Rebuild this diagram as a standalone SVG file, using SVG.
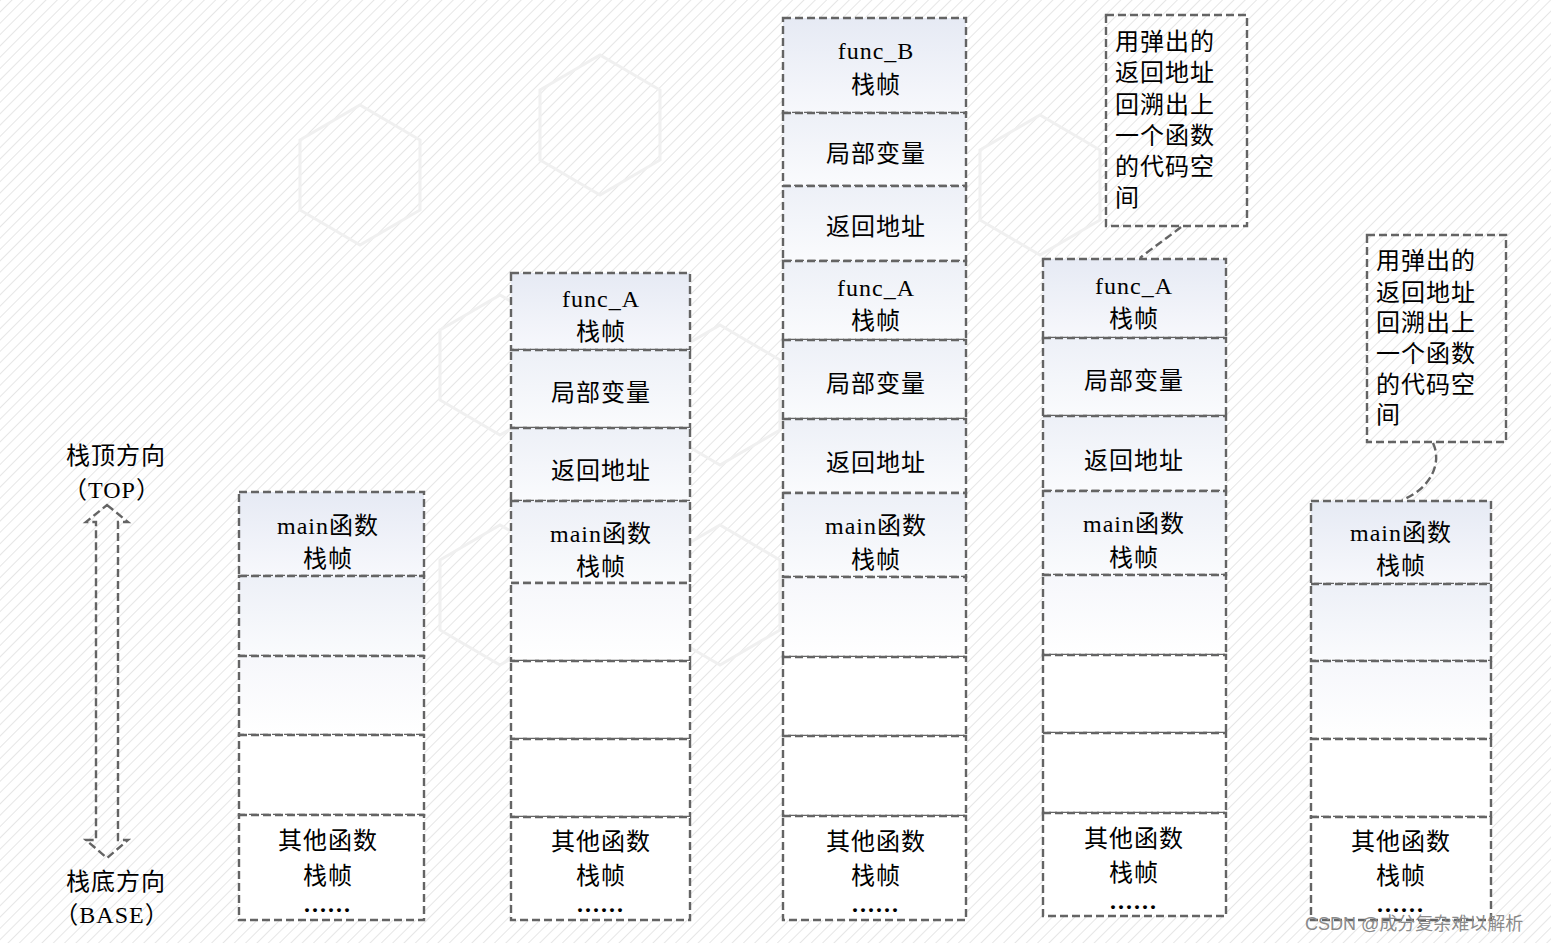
<svg xmlns="http://www.w3.org/2000/svg" width="1551" height="943" viewBox="0 0 1551 943">
<defs>
<pattern id="hatch" width="8" height="8" patternUnits="userSpaceOnUse" patternTransform="rotate(45)">
<rect width="8" height="8" fill="#ffffff"/>
<line x1="0" y1="0" x2="0" y2="8" stroke="#e6e6e6" stroke-width="2"/>
</pattern>
<linearGradient id="gHead" x1="0" y1="0" x2="0" y2="1">
<stop offset="0" stop-color="#e6eaf4"/>
<stop offset="1" stop-color="#f7f8fc"/>
</linearGradient>
<linearGradient id="gMid" x1="0" y1="0" x2="0" y2="1">
<stop offset="0" stop-color="#edf0f7"/>
<stop offset="1" stop-color="#fafbfd"/>
</linearGradient>
<linearGradient id="gLow" x1="0" y1="0" x2="0" y2="1">
<stop offset="0" stop-color="#f6f7fb"/>
<stop offset="1" stop-color="#ffffff"/>
</linearGradient>
</defs>
<style>
.cell{stroke:#646464;stroke-width:2.4;stroke-dasharray:8 4}
.h{fill:url(#gHead)}
.m{fill:url(#gMid)}
.l{fill:url(#gLow)}
.w{fill:#ffffff}
text{font-family:"Liberation Serif","Noto Sans CJK SC",serif;font-size:24px;fill:#000;letter-spacing:1px}
.c{text-anchor:middle}
.dots{font-weight:bold;letter-spacing:2px}
.conn{fill:none;stroke:#646464;stroke-width:2.4;stroke-dasharray:8 4}
.wm{font-family:"Liberation Sans","Noto Sans CJK SC",sans-serif;font-size:18px;fill:#8a8a8a;letter-spacing:0}
</style>
<rect width="1551" height="943" fill="url(#hatch)"/>
<g fill="none" stroke="#f0f0f0" stroke-width="3">
<polygon points="300,140 360,105 420,140 420,210 360,245 300,210"/>
<polygon points="540,90 600,55 660,90 660,160 600,195 540,160"/>
<polygon points="440,330 500,295 560,330 560,400 500,435 440,400"/>
<polygon points="660,360 720,325 780,360 780,430 720,465 660,430"/>
<polygon points="440,560 500,525 560,560 560,630 500,665 440,630"/>
<polygon points="660,560 720,525 780,560 780,630 720,665 660,630"/>
<polygon points="980,150 1040,115 1100,150 1100,220 1040,255 980,220"/>
</g>

<g id="direction">
<path d="M107,505 L128,522 L118,522 L118,840 L128,840 L107,858 L86,840 L96,840 L96,522 L86,522 Z" fill="#ffffff" class="conn"/>
<text class="c" x="116" y="464">栈顶方向</text>
<text class="c" x="112" y="498">（TOP）</text>
<text class="c" x="116" y="890">栈底方向</text>
<text class="c" x="112" y="923">（BASE）</text>
</g>

<g id="stack1">
<g id="s1-main"><rect class="cell h" x="239" y="492" width="185" height="84"/><text class="c" x="328" y="534">main函数</text><text class="c" x="328" y="567">栈帧</text></g>
<g id="s1-e1"><rect class="cell m" x="239" y="576" width="185" height="80"/></g>
<g id="s1-e2"><rect class="cell l" x="239" y="656" width="185" height="79"/></g>
<g id="s1-e3"><rect class="cell w" x="239" y="735" width="185" height="80"/></g>
<g id="s1-other"><rect class="cell w" x="239" y="815" width="185" height="105"/><text class="c" x="328" y="849">其他函数</text><text class="c" x="328" y="884">栈帧</text><text class="c dots" x="328" y="912">......</text></g>
</g>

<g id="stack2">
<g id="s2-funcA"><rect class="cell h" x="511" y="273" width="179" height="77"/><text class="c" x="601" y="307">func_A</text><text class="c" x="601" y="340">栈帧</text></g>
<g id="s2-local"><rect class="cell m" x="511" y="350" width="179" height="78"/><text class="c" x="601" y="401">局部变量</text></g>
<g id="s2-ret"><rect class="cell m" x="511" y="428" width="179" height="73"/><text class="c" x="601" y="479">返回地址</text></g>
<g id="s2-main"><rect class="cell m" x="511" y="501" width="179" height="82"/><text class="c" x="601" y="542">main函数</text><text class="c" x="601" y="575">栈帧</text></g>
<g id="s2-e1"><rect class="cell l" x="511" y="583" width="179" height="78"/></g>
<g id="s2-e2"><rect class="cell w" x="511" y="661" width="179" height="78"/></g>
<g id="s2-e3"><rect class="cell w" x="511" y="739" width="179" height="78"/></g>
<g id="s2-other"><rect class="cell w" x="511" y="817" width="179" height="103"/><text class="c" x="601" y="850">其他函数</text><text class="c" x="601" y="884">栈帧</text><text class="c dots" x="601" y="912">......</text></g>
</g>

<g id="stack3">
<g id="s3-funcB"><rect class="cell h" x="783" y="18" width="183" height="95"/><text class="c" x="876" y="59">func_B</text><text class="c" x="876" y="93">栈帧</text></g>
<g id="s3-local1"><rect class="cell m" x="783" y="113" width="183" height="73"/><text class="c" x="876" y="162">局部变量</text></g>
<g id="s3-ret1"><rect class="cell m" x="783" y="186" width="183" height="75"/><text class="c" x="876" y="235">返回地址</text></g>
<g id="s3-funcA"><rect class="cell m" x="783" y="261" width="183" height="79"/><text class="c" x="876" y="296">func_A</text><text class="c" x="876" y="329">栈帧</text></g>
<g id="s3-local2"><rect class="cell m" x="783" y="340" width="183" height="79"/><text class="c" x="876" y="392">局部变量</text></g>
<g id="s3-ret2"><rect class="cell m" x="783" y="419" width="183" height="74"/><text class="c" x="876" y="471">返回地址</text></g>
<g id="s3-main"><rect class="cell m" x="783" y="493" width="183" height="84"/><text class="c" x="876" y="534">main函数</text><text class="c" x="876" y="568">栈帧</text></g>
<g id="s3-e1"><rect class="cell l" x="783" y="577" width="183" height="80"/></g>
<g id="s3-e2"><rect class="cell w" x="783" y="657" width="183" height="79"/></g>
<g id="s3-e3"><rect class="cell w" x="783" y="736" width="183" height="80"/></g>
<g id="s3-other"><rect class="cell w" x="783" y="816" width="183" height="104"/><text class="c" x="876" y="850">其他函数</text><text class="c" x="876" y="884">栈帧</text><text class="c dots" x="876" y="912">......</text></g>
</g>

<g id="stack4">
<g id="s4-funcA"><rect class="cell h" x="1043" y="259" width="183" height="79"/><text class="c" x="1134" y="294">func_A</text><text class="c" x="1134" y="327">栈帧</text></g>
<g id="s4-local"><rect class="cell m" x="1043" y="338" width="183" height="78"/><text class="c" x="1134" y="389">局部变量</text></g>
<g id="s4-ret"><rect class="cell m" x="1043" y="416" width="183" height="75"/><text class="c" x="1134" y="469">返回地址</text></g>
<g id="s4-main"><rect class="cell m" x="1043" y="491" width="183" height="84"/><text class="c" x="1134" y="532">main函数</text><text class="c" x="1134" y="566">栈帧</text></g>
<g id="s4-e1"><rect class="cell l" x="1043" y="575" width="183" height="80"/></g>
<g id="s4-e2"><rect class="cell w" x="1043" y="655" width="183" height="78"/></g>
<g id="s4-e3"><rect class="cell w" x="1043" y="733" width="183" height="80"/></g>
<g id="s4-other"><rect class="cell w" x="1043" y="813" width="183" height="103"/><text class="c" x="1134" y="847">其他函数</text><text class="c" x="1134" y="881">栈帧</text><text class="c dots" x="1134" y="909">......</text></g>
</g>

<g id="stack5">
<g id="s5-main"><rect class="cell h" x="1311" y="501" width="180" height="83"/><text class="c" x="1401" y="541">main函数</text><text class="c" x="1401" y="574">栈帧</text></g>
<g id="s5-e1"><rect class="cell m" x="1311" y="584" width="180" height="77"/></g>
<g id="s5-e2"><rect class="cell l" x="1311" y="661" width="180" height="78"/></g>
<g id="s5-e3"><rect class="cell w" x="1311" y="739" width="180" height="78"/></g>
<g id="s5-other"><rect class="cell w" x="1311" y="817" width="180" height="103"/><text class="c" x="1401" y="850">其他函数</text><text class="c" x="1401" y="884">栈帧</text><text class="c dots" x="1401" y="912">......</text></g>
</g>

<g id="note1">
<rect class="cell" fill="none" x="1106" y="15" width="141" height="211"/>
<text x="1115" y="50">用弹出的</text>
<text x="1115" y="81">返回地址</text>
<text x="1115" y="113">回溯出上</text>
<text x="1115" y="144">一个函数</text>
<text x="1115" y="175">的代码空</text>
<text x="1115" y="206">间</text>
</g>

<g id="note2">
<rect class="cell" fill="none" x="1367" y="235" width="139" height="207"/>
<text x="1376" y="269">用弹出的</text>
<text x="1376" y="301">返回地址</text>
<text x="1376" y="331">回溯出上</text>
<text x="1376" y="362">一个函数</text>
<text x="1376" y="393">的代码空</text>
<text x="1376" y="423">间</text>
</g>

<g id="connectors">
<path class="conn" d="M1181,227 C1170,236 1155,246 1140,258"/>
<path class="conn" d="M1433,443 C1442,462 1432,488 1402,500"/>
</g>

<text class="wm" x="1305" y="930">CSDN @成分复杂难以解析</text>
</svg>
